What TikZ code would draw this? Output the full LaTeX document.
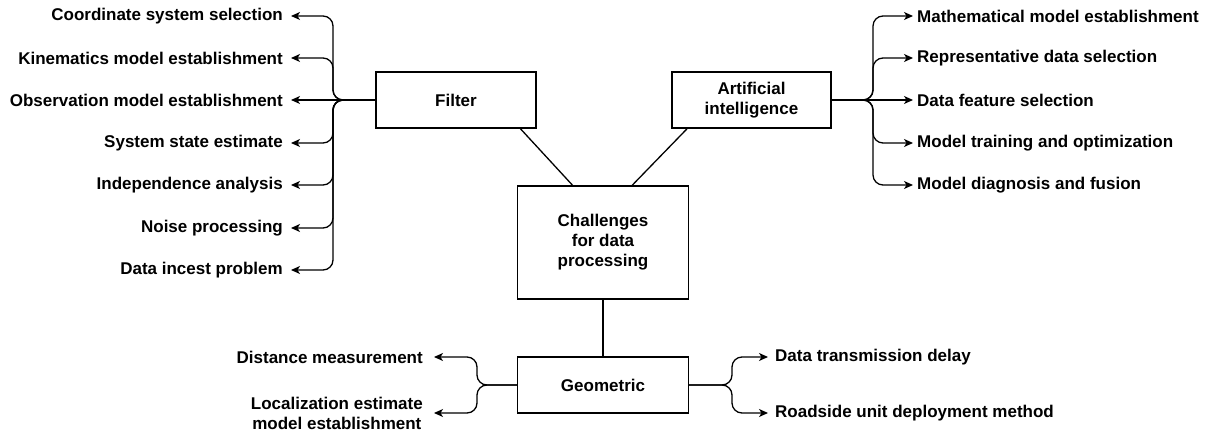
\documentclass[tikz,border=0pt]{standalone}
\usepackage{fontspec}
\setmainfont{Liberation Sans}
\usepackage{tikz}
\usetikzlibrary{positioning,shapes,arrows.meta,calc}

\begin{document}
\begin{tikzpicture}[
  x=1pt, y=-1pt,
  every node/.style={
    font=\fontsize{17}{20}\selectfont\bfseries,
  },
  box/.style={
    draw,
    line width=1.3pt,
    align=center,
    minimum height=56pt,
  },
  leaf/.style={
    inner xsep=8pt,
    inner ysep=2pt,
    align=center,
  },
  link/.style={line width=1.3pt},
  branch/.style={
    line width=1.3pt,
    rounded corners=10pt,
    -{Stealth[length=9pt,width=8pt,inset=2.5pt]},
  }]
  \useasboundingbox (0,0) rectangle (1209,435);

  % main boxes
  \node[box, minimum width=160pt] (filter) at (456,100) {Filter};
  \node[box, minimum width=159pt] (ai) at (751.5,100) {Artificial\\intelligence};
  \node[box, minimum width=171pt, minimum height=113pt] (chal) at (603,242.5)
    {Challenges\\for data\\processing};
  \node[box, minimum width=171pt] (geo) at (603,385) {Geometric};

  \draw[link] (filter.-24.7) -- (chal.118);
  \draw[link] (ai.204) -- (chal.63);
  \draw[link] (chal.south) -- (geo.north);

  % filter side
  \coordinate (fj) at (333,100);
  \node[leaf, anchor=east] (f1) at (291,16) {Coordinate system selection};
  \node[leaf, anchor=east] (f2) at (291,58) {Kinematics model establishment};
  \node[leaf, anchor=east] (f3) at (291,100) {Observation model establishment};
  \node[leaf, anchor=east] (f4) at (291,143) {System state estimate};
  \node[leaf, anchor=east] (f5) at (291,185) {Independence analysis};
  \node[leaf, anchor=east] (f6) at (291,228) {Noise processing};
  \node[leaf, anchor=east] (f7) at (291,270) {Data incest problem};
  \draw[branch] (filter.west) -- (fj) |- (f1.east);
  \draw[branch] (filter.west) -- (fj) |- (f2.east);
  \draw[branch] (filter.west) -- (f3.east);
  \draw[branch] (filter.west) -- (fj) |- (f4.east);
  \draw[branch] (filter.west) -- (fj) |- (f5.east);
  \draw[branch] (filter.west) -- (fj) |- (f6.east);
  \draw[branch] (filter.west) -- (fj) |- (f7.east);

  % artificial intelligence side
  \coordinate (aj) at (873,100);
  \node[leaf, anchor=west, inner xsep=4pt] (a1) at (913,16) {Mathematical model establishment};
  \node[leaf, anchor=west, inner xsep=4pt] (a2) at (913,58) {Representative data selection};
  \node[leaf, anchor=west, inner xsep=4pt] (a3) at (913,100) {Data feature selection};
  \node[leaf, anchor=west, inner xsep=4pt] (a4) at (913,143) {Model training and optimization};
  \node[leaf, anchor=west, inner xsep=4pt] (a5) at (913,185) {Model diagnosis and fusion};
  \draw[branch] (ai.east) -- (aj) |- (a1.west);
  \draw[branch] (ai.east) -- (aj) |- (a2.west);
  \draw[branch] (ai.east) -- (a3.west);
  \draw[branch] (ai.east) -- (aj) |- (a4.west);
  \draw[branch] (ai.east) -- (aj) |- (a5.west);

  % geometric side
  \coordinate (gl) at (477,385);
  \coordinate (gr) at (732,385);
  \node[leaf, anchor=east, inner xsep=11pt] (g1) at (434,357) {Distance measurement};
  \node[leaf, anchor=east, inner xsep=11pt] (g2) at (434,413)
    {Localization estimate\\model establishment};
  \node[leaf, anchor=west, inner xsep=7pt] (g3) at (768,357) {Data transmission delay};
  \node[leaf, anchor=west, inner xsep=7pt] (g4) at (768,413) {Roadside unit deployment method};
  \draw[branch] (geo.west) -- (gl) |- (g1.east);
  \draw[branch] (geo.west) -- (gl) |- (g2.east);
  \draw[branch] (geo.east) -- (gr) |- (g3.west);
  \draw[branch] (geo.east) -- (gr) |- (g4.west);
\end{tikzpicture}
\end{document}
